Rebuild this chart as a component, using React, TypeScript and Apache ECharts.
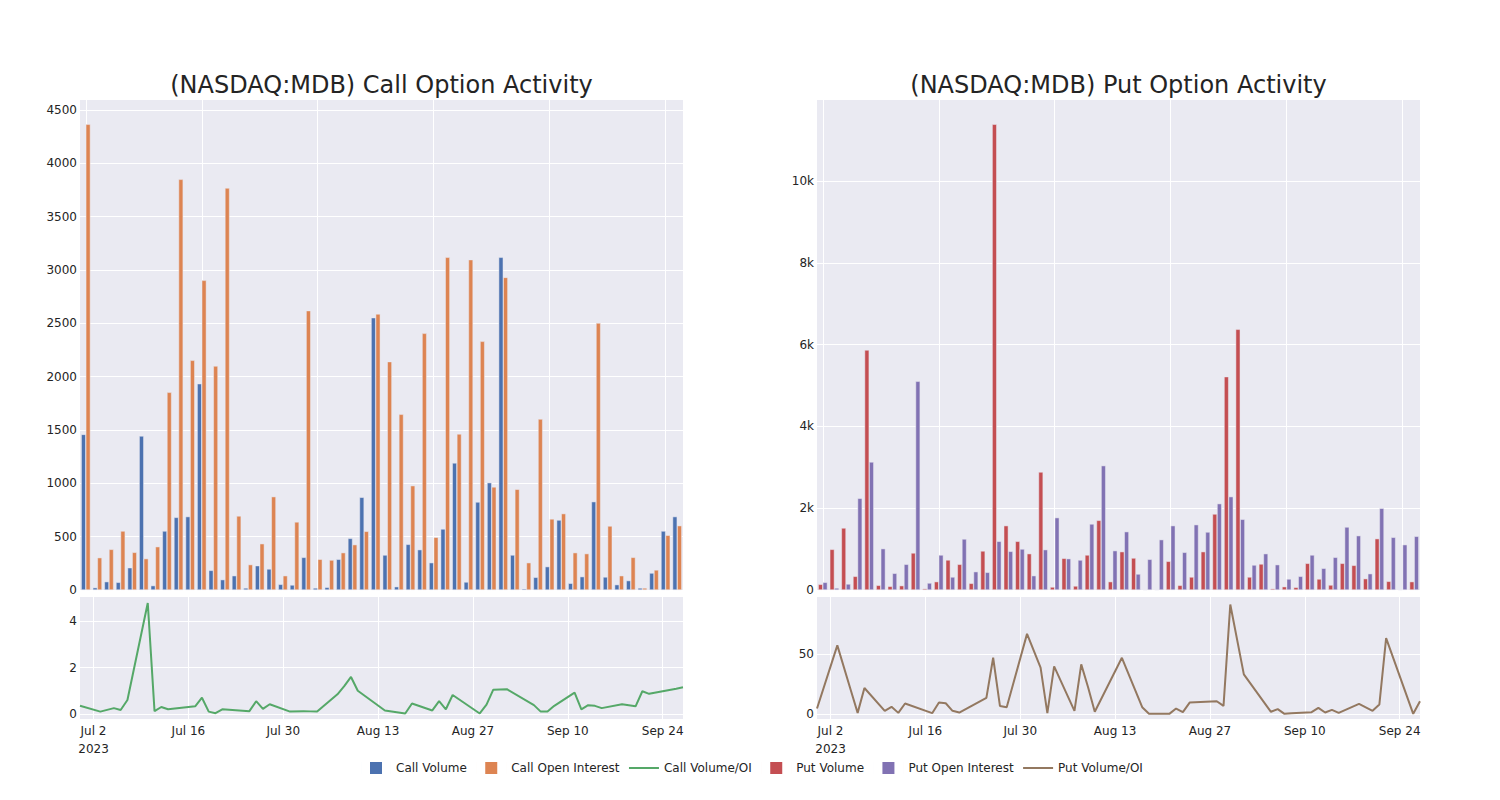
import React, { useEffect, useRef } from "react";
import * as echarts from "echarts";

// Trading dates (one bar pair / line point each)
const dates = [
  "2023-06-30", "2023-07-03", "2023-07-05", "2023-07-06", "2023-07-07", "2023-07-10",
  "2023-07-11", "2023-07-12", "2023-07-13", "2023-07-17", "2023-07-18", "2023-07-19",
  "2023-07-20", "2023-07-21", "2023-07-25", "2023-07-26", "2023-07-27", "2023-07-28",
  "2023-07-31", "2023-08-02", "2023-08-03", "2023-08-04", "2023-08-07", "2023-08-08",
  "2023-08-09", "2023-08-10", "2023-08-14", "2023-08-17", "2023-08-18", "2023-08-21",
  "2023-08-22", "2023-08-23", "2023-08-24", "2023-08-28", "2023-08-29", "2023-08-30",
  "2023-09-01", "2023-09-05", "2023-09-06", "2023-09-07", "2023-09-08", "2023-09-11",
  "2023-09-12", "2023-09-13", "2023-09-14", "2023-09-15", "2023-09-18", "2023-09-20",
  "2023-09-21", "2023-09-22", "2023-09-26", "2023-09-27",
];

const callVolume = [
  1459, 22, 78, 72, 209, 1444, 41, 553, 681, 688, 1934, 184, 97, 134, 19, 228, 197, 53,
  47, 306, 19, 25, 288, 484, 869, 2553, 328, 31, 428, 378, 256, 572, 1191, 75, 825, 1006,
  3119, 328, 12, 119, 219, 656, 63, 125, 828, 122, 50, 88, 19, 159, 553, 688,
];
const callOpenInterest = [
  4366, 303, 381, 553, 353, 294, 406, 1853, 3850, 2153, 2903, 2100, 3769, 694, 238, 434,
  875, 134, 638, 2619, 288, 281, 350, 425, 550, 2588, 2141, 1647, 978, 2406, 494, 3119,
  1463, 3097, 2331, 966, 2931, 944, 256, 1603, 666, 716, 350, 341, 2503, 600, 134, 306,
  19, 188, 513, 603,
];
const callVolumeOI = [
  0.35, 0.1, 0.25, 0.17, 0.6, 4.8, 0.12, 0.3, 0.2, 0.33, 0.7, 0.1, 0.03, 0.2, 0.12, 0.55,
  0.22, 0.42, 0.1, 0.12, 0.11, 0.1, 0.85, 1.2, 1.6, 1.0, 0.15, 0.02, 0.45, 0.15, 0.55, 0.2,
  0.82, 0.02, 0.4, 1.05, 1.07, 0.38, 0.1, 0.1, 0.35, 0.92, 0.2, 0.38, 0.35, 0.25, 0.42,
  0.33, 0.98, 0.87, 1.09, 1.15,
];
const putVolume = [
  139, 994, 1516, 334, 5868, 114, 90, 106, 905, 33, 204, 734, 628, 163, 954, 11386, 1573,
  1190, 888, 2885, 73, 774, 98, 856, 1703, 204, 937, 782, 8, 8, 701, 114, 318, 937, 1858,
  5216, 6373, 318, 636, 33, 81, 65, 652, 269, 122, 652, 603, 277, 1255, 212, 8, 204,
];
const putOpenInterest = [
  187, 49, 147, 2241, 3130, 1011, 408, 628, 5102, 171, 856, 318, 1247, 448, 432, 1190,
  945, 1002, 350, 986, 1769, 766, 733, 1614, 3040, 962, 1426, 391, 750, 1231, 1573, 921,
  1597, 1418, 2111, 2282, 1728, 611, 888, 619, 269, 334, 856, 530, 799, 1540, 1328, 399,
  1997, 1288, 1108, 1312,
];
const putVolumeOI = [
  4.4, 57, 19.5, 0.8, 21.5, 2.5, 5.8, 0.8, 8.6, 0.55, 9.4, 8.8, 2.5, 1.1, 13.3, 46.7, 6.6,
  5.5, 66.6, 38.4, 0.55, 39.5, 2.5, 41.2, 22.4, 1.7, 46.7, 5.5, 0, 0, 4.4, 1.4, 9.4, 10.5,
  6.6, 91, 32.9, 1.7, 3.9, 0, 0.5, 1.4, 5, 1.1, 3.3, 0.8, 8.3, 2.5, 7.7, 63, 0, 10.5,
];

const callYTicks = [0, 500, 1000, 1500, 2000, 2500, 3000, 3500, 4000, 4500];
const putYTicks = [0, 2000, 4000, 6000, 8000, 10000];
const callRatioTicks = [0, 2, 4];
const putRatioTicks = [0, 50];
const dateTicks = ["2023-07-02", "2023-07-16", "2023-07-30", "2023-08-13", "2023-08-27", "2023-09-10", "2023-09-24"];
const dateTickLabels = ["Jul 2\n2023", "Jul 16", "Jul 30", "Aug 13", "Aug 27", "Sep 10", "Sep 24"];
const categoryGridTicks = [0, 10, 20, 30, 40, 50];

const COLORS = {
  callVol: "#4C72B0",
  callOI: "#DD8452",
  callRatio: "#55A868",
  putVol: "#C44E52",
  putOI: "#8172B3",
  putRatio: "#937860",
  bg: "#EAEAF2",
  text: "#242424",
};

const dayNum = (s: string) => {
  const [y, m, d] = s.split("-").map(Number);
  return Date.UTC(y, m - 1, d) / 86400000;
};

export default function App() {
  const ref = useRef<HTMLDivElement>(null);

  useEffect(() => {
    if (!ref.current) return;
    const chart = echarts.init(ref.current, undefined, { renderer: "svg" });

    const font = { color: COLORS.text, fontFamily: "DejaVu Sans", fontSize: 12 };
    const dayTicks = dateTicks.map(dayNum);
    const dMin = dayNum(dates[0]);
    const dMax = dayNum(dates[dates.length - 1]);
    const splitLine = { show: true, lineStyle: { color: "#ffffff", width: 1 } };

    const catX = (gridIndex: number) => ({
      gridIndex,
      type: "value",
      min: -0.5,
      max: dates.length - 0.5,
      axisLine: { show: false },
      axisTick: { show: false, customValues: categoryGridTicks },
      axisLabel: { show: false, customValues: categoryGridTicks },
      splitLine,
    });
    const dateX = (gridIndex: number) => ({
      gridIndex,
      type: "value",
      min: dMin,
      max: dMax,
      axisLine: { show: false },
      axisTick: { show: false, customValues: dayTicks },
      axisLabel: {
        ...font,
        margin: 3,
        lineHeight: 18,
        customValues: dayTicks,
        formatter: (v: number) => {
          const i = dayTicks.indexOf(v);
          return i >= 0 ? dateTickLabels[i] : "";
        },
      },
      splitLine,
    });
    const valY = (gridIndex: number, min: number, max: number, ticks: number[], fmt: (v: number) => string) => ({
      gridIndex,
      type: "value",
      min,
      max,
      axisLine: { show: false },
      axisTick: { show: false, customValues: ticks },
      axisLabel: { ...font, margin: 3, customValues: ticks, formatter: fmt },
      splitLine,
    });
    const plain = (v: number) => String(v);

    const barData = (arr: number[]) => arr.map((v, i) => [i, v]);
    const lineData = (arr: number[]) => arr.map((v, i) => [dayNum(dates[i]), v]);
    const barCommon = {
      type: "bar",
      barWidth: 4.6,
      barGap: "0%",
      itemStyle: { borderColor: COLORS.bg, borderWidth: 0.5 },
    };
    const lineCommon = { type: "line", showSymbol: false, symbol: "none", lineStyle: { width: 2 } };

    // 30x12 bounding box (invisible slivers at the edges) with a centred 12x12 square
    const square = "path://M0,0h0.01v12h-0.01zM29.99,0h0.01v12h-0.01zM9,0h12v12h-12z";
    const lineIcon = "path://M0,0h30v2h-30z";
    const titleStyle = { color: COLORS.text, fontFamily: "DejaVu Sans", fontSize: 24, fontWeight: "normal" };

    chart.setOption({
      animation: false,
      backgroundColor: "#ffffff",
      title: [
        { text: "(NASDAQ:MDB) Call Option Activity", left: 376.5, top: 68, textAlign: "center", textStyle: titleStyle },
        { text: "(NASDAQ:MDB) Put Option Activity", left: 1113.5, top: 68, textAlign: "center", textStyle: titleStyle },
      ],
      legend: {
        left: 356,
        top: 757,
        itemWidth: 30,
        itemHeight: 12,
        itemGap: 9.4,
        symbolKeepAspect: true,
        itemStyle: { borderWidth: 0 },
        textStyle: { ...font },
        data: [
          { name: "Call Volume", icon: square },
          { name: "Call Open Interest", icon: square },
          { name: "Call Volume/OI", icon: lineIcon },
          { name: "Put Volume", icon: square },
          { name: "Put Open Interest", icon: square },
          { name: "Put Volume/OI", icon: lineIcon },
        ],
      },
      grid: [
        { left: 80, top: 100, width: 603, height: 490, show: true, backgroundColor: COLORS.bg, borderWidth: 0 },
        { left: 80, top: 597, width: 603, height: 122, show: true, backgroundColor: COLORS.bg, borderWidth: 0 },
        { left: 817, top: 100, width: 603, height: 490, show: true, backgroundColor: COLORS.bg, borderWidth: 0 },
        { left: 817, top: 597, width: 603, height: 122, show: true, backgroundColor: COLORS.bg, borderWidth: 0 },
      ],
      xAxis: [catX(0), dateX(1), catX(2), dateX(3)],
      yAxis: [
        valY(0, 0, 4594, callYTicks, plain),
        valY(1, -0.22, 5.06, callRatioTicks, plain),
        valY(2, 0, 11980, putYTicks, (v: number) => (v === 0 ? "0" : v / 1000 + "k")),
        valY(3, -4.3, 97.3, putRatioTicks, plain),
      ],
      series: [
        { ...barCommon, name: "Call Volume", xAxisIndex: 0, yAxisIndex: 0, color: COLORS.callVol, data: barData(callVolume) },
        { ...barCommon, name: "Call Open Interest", xAxisIndex: 0, yAxisIndex: 0, color: COLORS.callOI, data: barData(callOpenInterest) },
        { ...lineCommon, name: "Call Volume/OI", xAxisIndex: 1, yAxisIndex: 1, color: COLORS.callRatio, data: lineData(callVolumeOI) },
        { ...barCommon, name: "Put Volume", xAxisIndex: 2, yAxisIndex: 2, color: COLORS.putVol, data: barData(putVolume) },
        { ...barCommon, name: "Put Open Interest", xAxisIndex: 2, yAxisIndex: 2, color: COLORS.putOI, data: barData(putOpenInterest) },
        { ...lineCommon, name: "Put Volume/OI", xAxisIndex: 3, yAxisIndex: 3, color: COLORS.putRatio, data: lineData(putVolumeOI) },
      ],
    });

    return () => chart.dispose();
  }, []);

  return (
    <div
      ref={ref}
      style={{ position: "absolute", left: 0, top: 0, width: 1500, height: 800 }}
    />
  );
}
